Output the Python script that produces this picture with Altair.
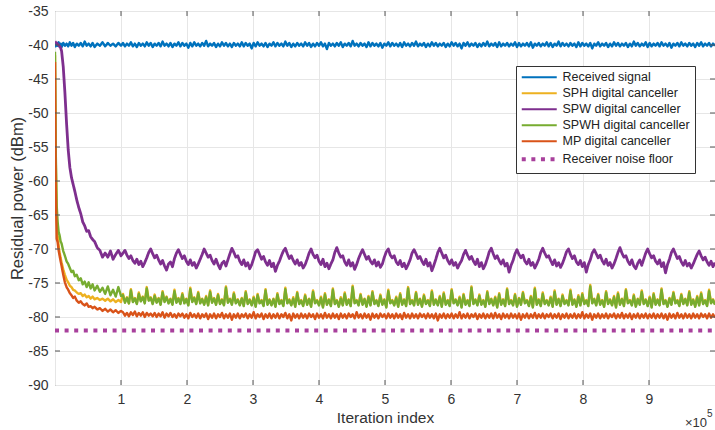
import altair as alt
import pandas as pd

# Iteration index grid (dense during the initial convergence)
x_early = [0, 1000, 2500, 4000, 5500, 7000, 8500, 10000, 12500, 15000, 17500, 20000,
           22500, 25000, 27500, 30000, 33000, 36000, 39000, 42000, 45000, 48000, 51000,
           54000, 57000, 60000, 64000, 68000, 72000, 76000, 80000, 84000, 88000, 92000,
           96000, 100000]
x_late = list(range(103000, 1000001, 3000))
iterations = x_early + x_late

received = [
    -39.7, -40.2, -39.8, -40.1, -39.6, -40.2, -39.8, -40.3, -39.7, -40.1,
    -39.8, -40.2, -39.6, -40.1, -39.7, -40.3, -39.8, -40.1, -39.7, -40.2,
    -39.5, -40.1, -39.8, -40.2, -39.7, -40.3, -39.8, -40.1, -39.6, -40.2,
    -39.7, -40.1, -39.8, -40.2, -39.7, -40.1,
    -39.7, -40.2, -39.8, -40.1, -39.6, -40.2, -39.8, -40.3, -39.7, -40.1, -39.8, -40.2, -39.6, -40.1, -39.7,
    -40.3, -39.8, -40.1, -39.7, -40.2, -39.5, -40.1, -39.8, -40.2, -39.7, -40.3, -39.8, -40.1, -39.6, -40.2,
    -39.7, -40.1, -39.8, -40.4, -39.7, -40.2, -39.6, -40.1, -39.8, -40.2, -39.7, -40.1, -39.4, -40.2, -39.8,
    -40.1, -39.7, -40.3, -39.8, -40.2, -39.6, -40.1, -39.7, -40.2, -39.8, -40.3, -39.7, -40.1, -39.8, -40.2,
    -39.6, -40.2, -39.7, -40.1, -39.8, -40.5, -39.7, -40.2, -39.6, -40.1, -39.8, -40.2, -39.7, -40.3, -39.8,
    -40.1, -39.6, -40.2, -39.7, -40.1, -39.8, -40.2, -39.5, -40.1, -39.7, -40.3, -39.8, -40.2, -39.7, -40.1,
    -39.8, -40.2, -39.6, -40.1, -39.7, -40.3, -39.8, -40.2, -39.7, -40.1, -39.6, -40.2, -39.8, -40.6, -39.7,
    -40.1, -39.8, -40.2, -39.7, -40.1, -39.6, -40.3, -39.8, -40.1, -39.7, -40.2, -39.4, -40.1, -39.8, -40.2,
    -39.7, -40.1, -39.8, -40.3, -39.6, -40.2, -39.7, -40.1, -39.8, -40.2, -39.7, -40.4, -39.8, -40.1, -39.6,
    -40.2, -39.7, -40.1, -39.8, -40.2, -39.7, -40.3, -39.6, -40.1, -39.8, -40.2, -39.7, -40.1, -39.5, -40.2,
    -39.8, -40.1, -39.7, -40.3, -39.8, -40.2, -39.6, -40.1, -39.7, -40.2, -39.8, -40.1, -39.7, -40.3, -39.8,
    -40.2, -39.6, -40.1, -39.7, -40.2, -39.8, -40.5, -39.7, -40.1, -39.6, -40.2, -39.8, -40.1, -39.7, -40.3,
    -39.8, -40.2, -39.7, -40.1, -39.5, -40.2, -39.8, -40.1, -39.7, -40.3, -39.6, -40.2, -39.8, -40.1, -39.7,
    -40.2, -39.8, -40.1, -39.6, -40.3, -39.7, -40.2, -39.8, -40.1, -39.7, -40.2, -39.6, -40.4, -39.8, -40.1,
    -39.7, -40.2, -39.8, -40.1, -39.6, -40.2, -39.7, -40.3, -39.8, -40.1, -39.5, -40.2, -39.7, -40.1, -39.8,
    -40.2, -39.7, -40.1, -39.8, -40.3, -39.6, -40.2, -39.7, -40.1, -39.8, -40.2, -39.7, -40.5, -39.8, -40.1,
    -39.6, -40.2, -39.8, -40.1, -39.7, -40.3, -39.8, -40.2, -39.6, -40.1, -39.7, -40.2, -39.8, -40.1, -39.7,
    -40.3, -39.8, -40.2, -39.5, -40.1, -39.7, -40.2, -39.8, -40.1, -39.6, -40.3, -39.7, -40.2, -39.8, -40.1,
    -39.7, -40.2, -39.6, -40.1, -39.8, -40.2, -39.7, -40.4, -39.8, -40.1, -39.7, -40.2, -39.6, -40.1, -39.8,
    -40.2, -39.7, -40.1, -39.8, -40.3, -39.7, -40.1, -39.6, -40.2, -39.8, -40.1, -39.7, -40.2, -39.8, -40.1,
]

sph = [
    -41.5, -56.0, -65.0, -68.0, -69.5, -70.5, -71.3, -72.0, -73.0, -73.8,
    -74.5, -74.9, -75.4, -75.6, -76.0, -76.1, -76.4, -76.6, -76.5, -76.9,
    -76.7, -77.1, -76.9, -77.3, -77.0, -77.4, -77.2, -77.5, -77.3, -77.6,
    -77.3, -77.7, -77.4, -77.8, -77.5, -77.8,
    -76.6, -77.8, -77.1, -78.0, -75.9, -77.7, -77.2, -78.0, -76.4, -77.6, -77.0, -77.9, -75.6, -77.5, -77.1,
    -78.0, -76.7, -77.8, -77.2, -78.1, -76.2, -77.7, -77.0, -77.9, -77.3, -78.1, -76.0, -77.8, -77.2, -78.0,
    -76.5, -77.9, -77.3, -78.2, -75.7, -77.7, -77.1, -78.0, -76.3, -77.9, -77.3, -78.1, -76.9, -78.2, -76.1,
    -77.8, -77.2, -78.1, -76.6, -78.0, -77.4, -78.2, -75.5, -77.8, -77.3, -78.1, -76.4, -77.9, -77.4, -78.2,
    -77.2, -78.3, -76.2, -78.0, -77.4, -78.2, -77.0, -78.4, -76.6, -77.9, -77.5, -78.3, -75.9, -78.1, -77.4,
    -78.2, -77.3, -78.4, -76.5, -78.0, -77.5, -78.3, -75.7, -77.9, -77.4, -78.2, -77.1, -78.4, -76.3, -78.0,
    -77.5, -78.3, -76.7, -78.1, -77.3, -78.4, -76.1, -77.9, -77.5, -78.2, -77.0, -78.5, -76.5, -78.1, -77.4,
    -78.3, -75.8, -78.0, -77.5, -78.4, -77.1, -78.2, -76.4, -78.1, -77.4, -78.3, -75.4, -77.9, -77.5, -78.2,
    -76.6, -78.1, -77.3, -78.4, -76.9, -78.2, -76.2, -78.0, -77.5, -78.3, -76.7, -78.1, -77.4, -78.5, -76.0,
    -77.9, -77.5, -78.2, -77.0, -78.4, -76.5, -78.1, -77.4, -78.3, -75.6, -78.0, -77.5, -78.2, -76.3, -78.1,
    -77.3, -78.4, -76.7, -78.0, -77.5, -78.3, -76.1, -78.1, -77.4, -78.2, -76.9, -78.4, -76.4, -78.1, -77.5,
    -78.3, -75.9, -77.9, -77.4, -78.2, -77.0, -78.5, -76.6, -78.1, -77.5, -78.3, -75.5, -78.0, -77.4, -78.2,
    -76.7, -78.1, -77.5, -78.4, -76.2, -78.0, -77.3, -78.2, -77.0, -78.5, -76.5, -78.1, -77.4, -78.3, -75.8,
    -78.0, -77.5, -78.2, -76.6, -78.4, -77.2, -78.1, -76.3, -77.9, -77.5, -78.3, -76.9, -78.5, -75.7, -78.1,
    -77.4, -78.3, -76.4, -78.0, -77.5, -78.2, -77.0, -78.4, -76.1, -78.1, -77.3, -78.3, -76.7, -78.0, -77.5,
    -78.2, -76.0, -78.1, -77.4, -78.4, -76.8, -78.2, -76.5, -78.0, -77.5, -78.3, -75.3, -77.9, -77.3, -78.2,
    -76.6, -78.1, -77.5, -78.4, -76.2, -78.0, -77.4, -78.2, -76.9, -78.5, -76.4, -78.1, -77.3, -78.3, -75.9,
    -77.9, -77.5, -78.2, -76.7, -78.4, -77.3, -78.1, -76.1, -78.0, -77.4, -78.3, -77.0, -78.5, -76.5, -78.1,
    -77.4, -78.2, -75.8, -78.0, -77.5, -78.4, -77.2, -78.1, -76.3, -77.9, -77.5, -78.3, -76.6, -78.0, -77.3,
    -78.2, -76.2, -78.1, -77.4, -78.4, -76.9, -78.2, -76.4, -78.0, -77.5, -78.3, -76.0, -77.9, -77.4, -78.1,
]

spw = [
    -39.5, -39.6, -39.7, -39.9, -40.0, -40.2, -40.4, -40.9, -43.2, -47.0,
    -51.5, -55.4, -58.0, -59.5, -60.5, -61.5, -62.8, -63.9, -64.8, -66.0,
    -66.6, -67.4, -67.3, -68.2, -68.6, -68.9, -69.8, -70.2, -71.2, -70.6,
    -71.2, -70.3, -71.5, -70.8, -70.2, -71.0,
    -70.6, -70.2, -70.9, -71.4, -71.0, -71.7, -72.1, -71.5, -72.3, -71.8, -72.6, -72.0, -71.3, -70.5, -70.0,
    -70.7, -71.3, -70.9, -71.6, -72.2, -71.7, -72.5, -73.1, -72.2, -71.9, -72.6, -71.4, -70.6, -70.1, -70.8,
    -71.4, -71.0, -71.8, -72.3, -71.6, -72.4, -72.0, -72.8, -72.2, -71.5, -70.8, -70.0, -70.6, -71.2, -70.9,
    -71.7, -72.2, -71.5, -72.3, -72.9, -72.1, -71.8, -72.5, -71.6, -70.7, -69.9, -70.5, -71.2, -71.0, -71.8,
    -72.3, -71.6, -72.5, -72.0, -72.9, -72.3, -71.4, -70.4, -70.1, -70.8, -71.5, -71.1, -71.9, -72.4, -71.7,
    -72.6, -72.1, -73.3, -72.4, -71.8, -71.0, -70.3, -69.9, -70.7, -71.4, -71.0, -71.7, -72.2, -71.6, -72.4,
    -72.0, -72.8, -72.3, -71.5, -70.6, -70.0, -70.8, -71.3, -70.9, -71.8, -72.3, -71.5, -72.6, -72.1, -72.9,
    -72.2, -71.6, -70.5, -69.8, -70.6, -71.2, -71.0, -71.9, -72.4, -71.6, -72.5, -72.0, -73.0, -72.3, -71.4,
    -70.7, -70.1, -70.8, -71.5, -71.1, -71.8, -72.2, -71.6, -72.5, -71.9, -72.7, -72.2, -71.2, -70.4, -70.0,
    -70.9, -71.3, -71.0, -71.9, -72.3, -71.7, -72.6, -72.1, -72.9, -72.3, -71.6, -70.6, -70.1, -70.7, -71.4,
    -71.1, -71.8, -72.3, -71.5, -72.5, -72.0, -73.2, -72.4, -71.5, -70.5, -69.9, -70.6, -71.3, -70.9, -71.7,
    -72.2, -71.6, -72.4, -72.0, -72.8, -72.2, -71.7, -70.8, -70.2, -70.9, -71.5, -71.1, -71.8, -72.3, -71.5,
    -72.6, -72.0, -72.9, -72.3, -71.4, -70.4, -69.9, -70.7, -71.4, -71.0, -71.7, -72.2, -71.6, -72.5, -72.1,
    -73.4, -72.4, -71.7, -70.7, -70.1, -70.8, -71.3, -70.9, -71.8, -72.2, -71.5, -72.4, -72.0, -72.8, -72.2,
    -71.5, -70.5, -69.9, -70.6, -71.2, -71.0, -71.7, -72.3, -71.6, -72.5, -72.0, -72.7, -72.1, -71.3, -70.4,
    -70.0, -70.8, -71.4, -71.0, -71.9, -72.3, -71.7, -72.6, -72.0, -73.4, -72.3, -71.6, -70.6, -70.1, -70.7,
    -71.3, -70.9, -71.7, -72.2, -71.5, -72.4, -72.0, -72.8, -72.2, -71.4, -70.5, -69.8, -70.6, -71.2, -71.0,
    -71.8, -72.3, -71.6, -72.5, -72.9, -72.1, -71.6, -72.4, -71.5, -70.6, -70.0, -70.7, -71.3, -71.0, -71.8,
    -72.2, -71.6, -72.6, -72.0, -73.5, -72.3, -71.5, -70.5, -70.0, -70.7, -71.4, -71.1, -71.9, -72.4, -71.7,
    -72.5, -72.1, -72.8, -72.2, -71.5, -70.8, -70.3, -71.0, -71.6, -71.2, -71.9, -72.4, -71.8, -72.6, -72.0,
]

spwh = [
    -41.0, -55.0, -63.5, -66.0, -67.5, -68.0, -68.9, -69.2, -70.3, -71.0,
    -71.8, -72.2, -72.8, -73.4, -73.2, -74.0, -73.8, -74.6, -74.3, -75.2,
    -74.8, -75.6, -74.9, -75.8, -75.2, -76.1, -75.4, -76.3, -75.7, -76.6,
    -75.5, -76.8, -76.0, -77.0, -75.6, -76.9,
    -76.8, -77.9, -77.2, -78.0, -76.1, -77.8, -77.3, -78.1, -76.6, -77.7, -77.1, -78.0, -75.8, -77.6, -77.2,
    -78.1, -76.9, -77.9, -77.3, -78.2, -76.4, -77.8, -77.1, -78.0, -77.4, -78.2, -76.2, -77.9, -77.3, -78.1,
    -76.7, -78.0, -77.4, -78.3, -75.9, -77.8, -77.2, -78.1, -76.5, -78.0, -77.4, -78.2, -77.1, -78.3, -76.3,
    -77.9, -77.3, -78.2, -76.8, -78.1, -77.5, -78.3, -75.7, -77.9, -77.4, -78.2, -76.6, -78.0, -77.5, -78.3,
    -77.3, -78.4, -76.4, -78.1, -77.5, -78.3, -77.2, -78.5, -76.8, -78.0, -77.6, -78.4, -76.1, -78.2, -77.5,
    -78.3, -77.4, -78.5, -76.7, -78.1, -77.6, -78.4, -75.9, -78.0, -77.5, -78.3, -77.3, -78.5, -76.5, -78.1,
    -77.6, -78.4, -76.9, -78.2, -77.4, -78.5, -76.3, -78.0, -77.6, -78.3, -77.2, -78.6, -76.7, -78.2, -77.5,
    -78.4, -76.0, -78.1, -77.6, -78.5, -77.3, -78.3, -76.6, -78.2, -77.5, -78.4, -75.6, -78.0, -77.6, -78.3,
    -76.8, -78.2, -77.4, -78.5, -77.1, -78.3, -76.4, -78.1, -77.6, -78.4, -76.9, -78.2, -77.5, -78.6, -76.2,
    -78.0, -77.6, -78.3, -77.2, -78.5, -76.7, -78.2, -77.5, -78.4, -75.8, -78.1, -77.6, -78.3, -76.5, -78.2,
    -77.4, -78.5, -76.9, -78.1, -77.6, -78.4, -76.3, -78.2, -77.5, -78.3, -77.1, -78.5, -76.6, -78.2, -77.6,
    -78.4, -76.1, -78.0, -77.5, -78.3, -77.2, -78.6, -76.8, -78.2, -77.6, -78.4, -75.7, -78.1, -77.5, -78.3,
    -76.9, -78.2, -77.6, -78.5, -76.4, -78.1, -77.4, -78.3, -77.2, -78.6, -76.7, -78.2, -77.5, -78.4, -76.0,
    -78.1, -77.6, -78.3, -76.8, -78.5, -77.3, -78.2, -76.5, -78.0, -77.6, -78.4, -77.1, -78.6, -75.9, -78.2,
    -77.5, -78.4, -76.6, -78.1, -77.6, -78.3, -77.2, -78.5, -76.3, -78.2, -77.4, -78.4, -76.9, -78.1, -77.6,
    -78.3, -76.2, -78.2, -77.5, -78.5, -77.0, -78.3, -76.7, -78.1, -77.6, -78.4, -75.5, -78.0, -77.4, -78.3,
    -76.8, -78.2, -77.6, -78.5, -76.4, -78.1, -77.5, -78.3, -77.1, -78.6, -76.6, -78.2, -77.4, -78.4, -76.1,
    -78.0, -77.6, -78.3, -76.9, -78.5, -77.4, -78.2, -76.3, -78.1, -77.5, -78.4, -77.2, -78.6, -76.7, -78.2,
    -77.5, -78.3, -76.0, -78.1, -77.6, -78.5, -77.3, -78.2, -76.5, -78.0, -77.6, -78.4, -76.8, -78.1, -77.4,
    -78.3, -76.4, -78.2, -77.5, -78.5, -77.1, -78.3, -76.6, -78.1, -77.6, -78.4, -76.2, -78.0, -77.5, -78.2,
]

mp = [
    -42.5, -60.0, -68.5, -69.0, -70.2, -71.0, -71.8, -72.5, -73.8, -74.9,
    -75.6, -76.0, -76.5, -76.8, -77.2, -77.0, -77.6, -77.9, -77.7, -78.1,
    -78.3, -78.0, -78.5, -78.4, -78.7, -78.5, -78.9, -78.7, -79.1, -78.8,
    -79.2, -78.9, -79.3, -79.0, -79.4, -79.1,
    -79.3, -79.8, -79.4, -79.9, -79.3, -79.7, -79.2, -79.9, -79.4, -79.8, -79.3, -80.0, -79.4, -79.8, -79.5,
    -79.9, -79.4, -80.0, -79.5, -79.9, -79.3, -80.1, -79.5, -79.9, -79.4, -80.0, -79.6, -80.1, -79.5, -79.9,
    -79.5, -80.1, -79.6, -80.2, -79.4, -80.0, -79.6, -80.1, -79.5, -80.2, -79.6, -80.0, -79.5, -80.3, -79.6,
    -80.1, -79.5, -80.2, -79.6, -80.0, -79.4, -80.2, -79.6, -80.1, -79.5, -80.4, -79.6, -80.1, -79.5, -80.2,
    -79.6, -80.0, -79.5, -80.2, -79.6, -80.1, -79.3, -80.2, -79.6, -80.0, -79.5, -80.3, -79.6, -80.1, -79.5,
    -80.2, -79.6, -80.1, -79.5, -80.2, -79.6, -80.0, -79.4, -80.2, -79.6, -80.5, -79.5, -80.1, -79.6, -80.2,
    -79.5, -80.1, -79.6, -80.2, -79.5, -80.0, -79.6, -80.3, -79.5, -80.1, -79.6, -80.2, -79.4, -80.1, -79.6,
    -80.2, -79.5, -80.1, -79.6, -80.3, -79.5, -80.1, -79.6, -80.2, -79.5, -80.0, -79.6, -80.2, -79.3, -80.1,
    -79.6, -80.2, -79.5, -80.1, -79.6, -80.4, -79.5, -80.1, -79.6, -80.2, -79.5, -80.0, -79.6, -80.2, -79.5,
    -80.1, -79.6, -80.2, -79.5, -80.1, -79.6, -80.3, -79.4, -80.1, -79.6, -80.2, -79.5, -80.1, -79.6, -80.2,
    -79.5, -80.0, -79.6, -80.2, -79.5, -80.1, -79.6, -80.2, -79.5, -80.5, -79.6, -80.1, -79.5, -80.2, -79.6,
    -80.1, -79.5, -80.2, -79.6, -80.1, -79.3, -80.2, -79.6, -80.1, -79.5, -80.2, -79.6, -80.0, -79.5, -80.3,
    -79.6, -80.1, -79.5, -80.2, -79.6, -80.1, -79.5, -80.2, -79.4, -80.1, -79.6, -80.3, -79.5, -80.1, -79.6,
    -80.2, -79.5, -80.1, -79.6, -80.2, -79.5, -80.4, -79.6, -80.1, -79.5, -80.2, -79.6, -80.1, -79.4, -80.2,
    -79.6, -80.1, -79.5, -80.2, -79.6, -80.0, -79.5, -80.2, -79.6, -80.1, -79.5, -80.3, -79.6, -80.1, -79.5,
    -80.2, -79.6, -80.1, -79.5, -80.2, -79.6, -80.1, -79.3, -80.2, -79.6, -80.1, -79.5, -80.4, -79.6, -80.1,
    -79.5, -80.2, -79.6, -80.1, -79.5, -80.2, -79.6, -80.0, -79.5, -80.2, -79.6, -80.1, -79.4, -80.2, -79.6,
    -80.1, -79.5, -80.3, -79.6, -80.1, -79.5, -80.2, -79.6, -80.1, -79.5, -80.2, -79.6, -80.1, -79.5, -80.2,
    -79.6, -80.1, -79.5, -80.2, -79.6, -80.4, -79.5, -80.1, -79.6, -80.2, -79.4, -80.1, -79.6, -80.2, -79.5,
    -80.1, -79.6, -80.2, -79.5, -80.1, -79.6, -80.2, -79.5, -80.0, -79.6, -80.2, -79.5, -80.1, -79.6, -80.1,
]

noise_x = [0, 1000000]
noise_floor = [-82, -82]

names = ["Received signal", "SPH digital canceller", "SPW digital canceller",
         "SPWH digital canceller", "MP digital canceller", "Receiver noise floor"]
colors = ["#0072BD", "#EDB120", "#7E2F8E", "#77AC30", "#D95319", "#A8409C"]
dashes = [[1, 0], [1, 0], [1, 0], [1, 0], [1, 0], [4, 5.6]]

x_ticks = [100000 * i for i in range(1, 10)]
y_ticks = list(range(-85, -35, 5))

W, H = 660, 374
FONT = "Liberation Sans"
TXT = "#333333"

x_scale = alt.Scale(domain=[0, 1000000], nice=False, zero=False)
y_scale = alt.Scale(domain=[-90, -35], nice=False, zero=False)

legend = alt.Legend(
    title=None, orient="none", legendX=461, legendY=55,
    symbolType="M-3.5,0H3.5", symbolSize=100, symbolOffset=12,
    labelOffset=17, labelFont=FONT, labelFontSize=12.5, labelColor="#222",
    padding=5, rowPadding=3, strokeColor="#333", fillColor="white",
    labelLimit=300,
    symbolStrokeWidth=alt.ExprRef(expr="datum.value === 'Receiver noise floor' ? 4 : 2"),
)

x_axis = alt.Axis(
    title="Iteration index", values=list(range(0, 1000001, 100000)),
    labelExpr="datum.value == 0 || datum.value >= 1000000 ? '' : format(datum.value / 100000, 'd')",
    grid=True, ticks=False, domain=False, labelPadding=7, labelFlush=False,
    titlePadding=4, titleFontSize=15.5,
)
# plain hyphen-minus in the tick labels
y_axis = alt.Axis(
    title="Residual power (dBm)", values=list(range(-90, -34, 5)),
    labelExpr="'' + datum.value",
    grid=True, ticks=False, domain=False, labelPadding=7, labelOverlap=False,
    labelFlush=False, titleX=-38, titleY=H / 2, titleAngle=-90,
    titleBaseline="middle", titleAlign="center", titleFontSize=16.5,
)


def series_layer(xs, ys, name, width):
    df = pd.DataFrame({"x": xs, "value": ys, "series": name})
    return alt.Chart(df).mark_line(clip=True, strokeWidth=width, strokeJoin="round").encode(
        x=alt.X("x:Q", scale=x_scale, axis=x_axis),
        y=alt.Y("value:Q", scale=y_scale, axis=y_axis),
        color=alt.Color("series:N", scale=alt.Scale(domain=names, range=colors), legend=legend),
        strokeDash=alt.StrokeDash("series:N", scale=alt.Scale(domain=names, range=dashes), legend=legend),
        order=alt.Order("x:Q"),
    )


layers = [
    series_layer(iterations, received, names[0], 2.4),
    series_layer(iterations, sph, names[1], 2.4),
    series_layer(iterations, spw, names[2], 2.8),
    series_layer(iterations, spwh, names[3], 2.4),
    series_layer(iterations, mp, names[4], 2.4),
    series_layer(noise_x, noise_floor, names[5], 4),
]

# inward tick marks on all four sides of the box (same axes as the data layers)
tick_color = "#555555"
xt = pd.DataFrame({"x": x_ticks})
yt = pd.DataFrame({"value": y_ticks})
ticks = [
    alt.Chart(xt).mark_rule(color=tick_color, strokeWidth=1).encode(
        x=alt.X("x:Q", scale=x_scale, axis=x_axis), y=alt.value(H), y2=alt.value(H - 5)),
    alt.Chart(xt).mark_rule(color=tick_color, strokeWidth=1).encode(
        x=alt.X("x:Q", scale=x_scale, axis=x_axis), y=alt.value(0), y2=alt.value(5)),
    alt.Chart(yt).mark_rule(color=tick_color, strokeWidth=1).encode(
        y=alt.Y("value:Q", scale=y_scale, axis=y_axis), x=alt.value(0), x2=alt.value(5)),
    alt.Chart(yt).mark_rule(color=tick_color, strokeWidth=1).encode(
        y=alt.Y("value:Q", scale=y_scale, axis=y_axis), x=alt.value(W), x2=alt.value(W - 5)),
]

# axis exponent label
exp_df = pd.DataFrame({"t": ["\u00d710"], "e": ["5"]})
exponent = [
    alt.Chart(exp_df).mark_text(align="right", baseline="alphabetic", font=FONT,
                                fontSize=13, color=TXT).encode(
        x=alt.value(652), y=alt.value(416), text="t:N"),
    alt.Chart(exp_df).mark_text(align="left", baseline="alphabetic", font=FONT,
                                fontSize=10, color=TXT).encode(
        x=alt.value(652), y=alt.value(406), text="e:N"),
]

chart = alt.layer(*layers, *ticks, *exponent).properties(
    width=W, height=H,
    autosize=alt.AutoSizeParams(type="none"),
    padding={"left": 55, "top": 11, "right": 0, "bottom": 45},
    background="white",
).configure_view(
    stroke="#666666", strokeWidth=1,
).configure_axis(
    gridColor="#E6E6E6", gridWidth=1, labelFont=FONT, titleFont=FONT,
    labelFontSize=14, titleFontSize=15, labelColor=TXT, titleColor=TXT,
    titleFontWeight="normal",
)

chart.save("out.html", embed_options={"renderer": "svg", "actions": False})
